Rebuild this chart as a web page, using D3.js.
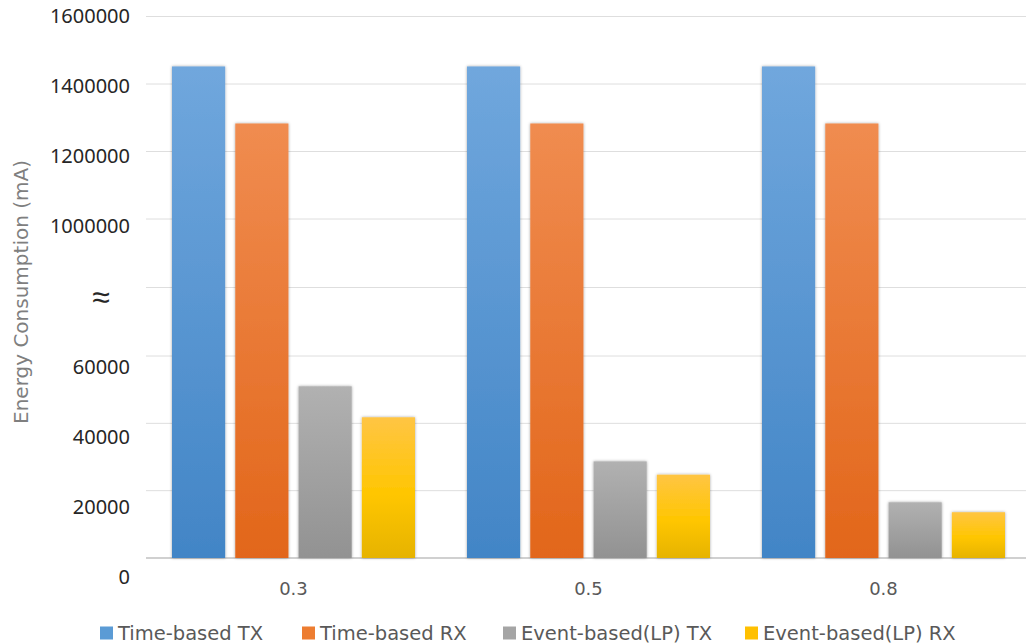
<!DOCTYPE html>
<html>
<head>
<meta charset="utf-8">
<script src="https://cdn.jsdelivr.net/npm/d3@7"></script>
<style>
  body { margin: 0; background: #fff; }
  svg { display: block; font-family: "DejaVu Sans", "Noto Sans", sans-serif; }
</style>
</head>
<body>
<svg id="chart" width="1026" height="644"></svg>
<script>
// data
const categories = ["0.3", "0.5", "0.8"];
const seriesNames = ["Time-based TX", "Time-based RX", "Event-based(LP) TX", "Event-based(LP) RX"];
const timeTX = [1452000, 1452000, 1452000];
const timeRX = [1283000, 1283000, 1283000];
const eventTX = [51000, 28700, 16550];
const eventRX = [41800, 24750, 13600];
const tickValues = [0, 20000, 40000, 60000, "break", 1000000, 1200000, 1400000, 1600000];

const seriesValues = [timeTX, timeRX, eventTX, eventRX];
const colors = [
  ["#70a7dd", "#4285c6"],
  ["#f08c50", "#e2661a"],
  ["#b1b1b1", "#929292"],
  ["#ffc544", "#e6b300"]
];
const legendColors = ["#5b9bd5", "#ed7d31", "#a5a5a5", "#ffc000"];

const width = 1026, height = 644;
const svg = d3.select("#chart");

// broken axis: lower part 0..60000, upper part 1000000..1600000
const y = d3.scaleLinear()
  .domain([0, 60000, 1000000, 1600000])
  .range([558, 356, 219, 16.5]);
const breakValue = (60000 + 1000000) / 2;
const tickY = (v) => y(v === "break" ? breakValue : v);

// labels are spaced a bit wider than the gridlines in the original
const labelY = d3.scaleLinear().domain([0, tickValues.length - 1]).range([577, 16]);

const x0 = d3.scaleBand().domain(categories).range([146, 1031]).paddingInner(0).paddingOuter(0);
const x1 = d3.scaleBand().domain(d3.range(seriesNames.length))
  .range([26, x0.bandwidth() - 26]).paddingInner(0.16);

const defs = svg.append("defs");
colors.forEach((c, i) => {
  const g = defs.append("linearGradient")
    .attr("id", "grad" + i)
    .attr("x1", 0).attr("y1", 0).attr("x2", 0).attr("y2", 1);
  g.append("stop").attr("offset", "0%").attr("stop-color", c[0]);
  if (i === 3) g.append("stop").attr("offset", "55%").attr("stop-color", "#ffc600");
  g.append("stop").attr("offset", "100%").attr("stop-color", c[1]);
});
const shadow = defs.append("filter").attr("id", "shadow")
  .attr("x", "-20%").attr("y", "-5%").attr("width", "140%").attr("height", "110%");
shadow.append("feDropShadow")
  .attr("dx", 0).attr("dy", 0).attr("stdDeviation", 1.6)
  .attr("flood-color", "#000").attr("flood-opacity", 0.35);

// gridlines
svg.append("g")
  .selectAll("line")
  .data(tickValues)
  .join("line")
  .attr("x1", 146).attr("x2", width)
  .attr("y1", (d) => tickY(d)).attr("y2", (d) => tickY(d))
  .attr("stroke", (d) => d === 0 ? "#d0d0d0" : "#dedede")
  .attr("stroke-width", (d) => d === 0 ? 2 : 1);

// y tick labels
svg.append("g")
  .selectAll("text")
  .data(tickValues)
  .join("text")
  .attr("x", (d) => d === "break" ? 101 : 130)
  .attr("y", (d, i) => labelY(i))
  .attr("dy", "0.35em")
  .attr("text-anchor", (d) => d === "break" ? "middle" : "end")
  .attr("fill", "#262626")
  .style("font-family", "'Noto Sans', sans-serif")
  .style("font-size", (d) => d === "break" ? "32px" : "20px")
  .text((d) => d === "break" ? "≈" : d);

// y axis title
svg.append("text")
  .attr("transform", "translate(21,292) rotate(-90)")
  .attr("text-anchor", "middle")
  .attr("dy", "0.35em")
  .attr("fill", "#7f7f7f")
  .style("font-size", "20px")
  .text("Energy Consumption (mA)");

// bars
const groups = svg.append("g")
  .selectAll("g")
  .data(categories)
  .join("g")
  .attr("transform", (d) => `translate(${x0(d)},0)`);

groups.selectAll("rect")
  .data((d, ci) => seriesValues.map((s, si) => ({ si, v: s[ci] })))
  .join("rect")
  .attr("x", (d) => x1(d.si))
  .attr("width", x1.bandwidth())
  .attr("y", (d) => y(d.v))
  .attr("height", (d) => y(0) - y(d.v))
  .attr("fill", (d) => `url(#grad${d.si})`)
  .attr("filter", "url(#shadow)");

// x labels
svg.append("g")
  .selectAll("text")
  .data(categories)
  .join("text")
  .attr("x", (d) => x0(d) + x0.bandwidth() / 2)
  .attr("y", 589)
  .attr("dy", "0.35em")
  .attr("text-anchor", "middle")
  .attr("fill", "#595959")
  .style("font-size", "18px")
  .text((d) => d);

// legend
const legendX = [100, 302, 503, 745];
const legend = svg.append("g")
  .selectAll("g")
  .data(seriesNames)
  .join("g")
  .attr("transform", (d, i) => `translate(${legendX[i]},633)`);
legend.append("rect")
  .attr("x", 0).attr("y", -6.5)
  .attr("width", 13).attr("height", 13)
  .attr("fill", (d, i) => legendColors[i]);
legend.append("text")
  .attr("x", 18)
  .attr("dy", "0.35em")
  .attr("fill", "#595959")
  .style("font-size", "19.5px")
  .text((d) => d);
</script>
</body>
</html>
